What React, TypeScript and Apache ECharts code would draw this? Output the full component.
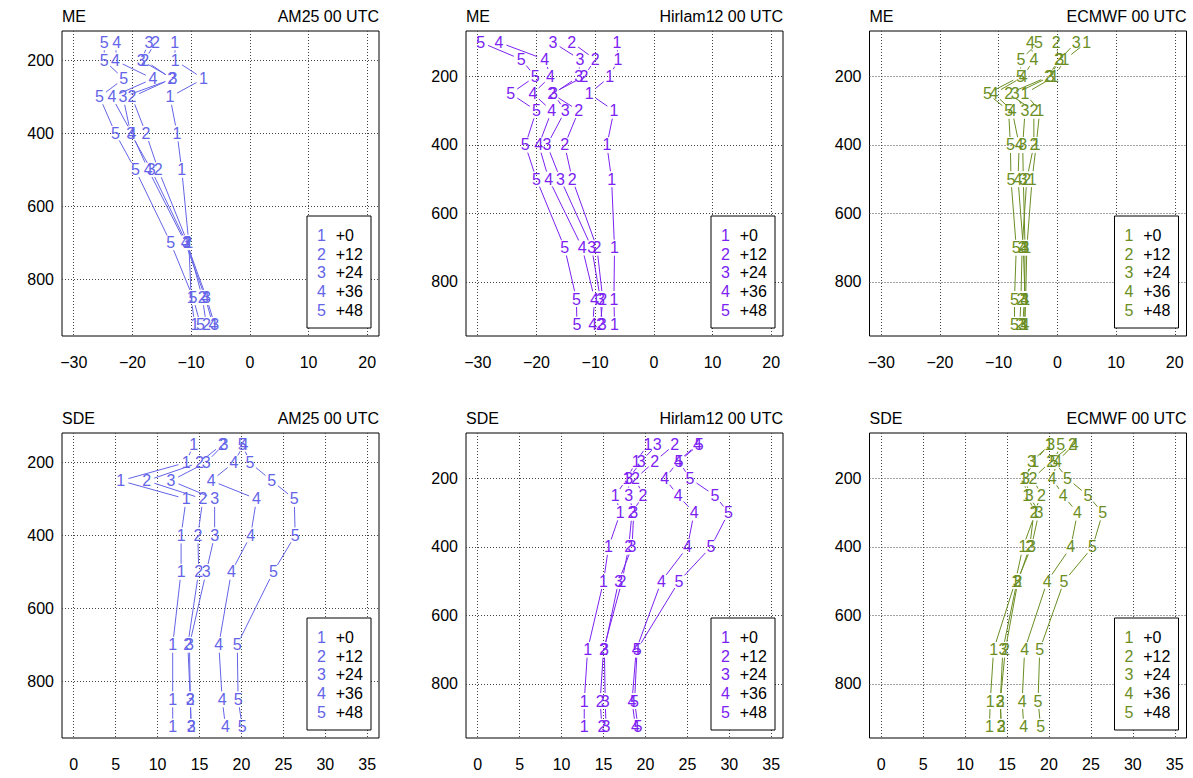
import React, { useEffect, useRef } from 'react';
import * as echarts from 'echarts';

// Pressure levels (hPa) per model
const levelsAM25 = [150, 200, 250, 300, 400, 500, 700, 850, 925];
const levelsHirlam12 = [100, 150, 200, 250, 300, 400, 500, 700, 850, 925];
const levelsECMWF = [100, 150, 200, 250, 300, 400, 500, 700, 850, 925];

const leadDigits = ['1', '2', '3', '4', '5'];
const leadLabels = ['+0', '+12', '+24', '+36', '+48'];

// ME values, one array per lead (+0, +12, +24, +36, +48)
const meAM25 = [
  [-12.8, -12.7, -7.9, -13.6, -12.4, -11.6, -10.4, -10.0, -9.4],
  [-16.1, -17.9, -13.3, -20.1, -17.7, -15.6, -10.6, -8.1, -7.4],
  [-17.2, -18.5, -13.1, -21.6, -20.3, -16.8, -10.8, -7.4, -6.0],
  [-22.7, -22.9, -16.5, -23.5, -20.1, -17.3, -11.0, -7.6, -6.3],
  [-24.8, -24.8, -21.5, -25.6, -22.9, -19.5, -13.5, -9.7, -8.4],
];
const meHirlam12 = [
  [-6.3, -6.1, -7.5, -11.0, -6.8, -8.0, -7.2, -6.7, -6.8, -6.7],
  [-14.0, -10.0, -11.9, -17.4, -12.8, -15.2, -13.9, -9.7, -8.7, -9.1],
  [-17.2, -12.6, -12.8, -17.1, -15.1, -18.2, -15.9, -10.6, -9.1, -8.8],
  [-26.4, -18.6, -17.6, -20.6, -17.4, -19.6, -17.9, -12.2, -10.1, -10.4],
  [-29.5, -22.6, -20.2, -24.4, -20.0, -21.9, -20.0, -15.2, -13.2, -13.1],
];
const meECMWF = [
  [5.0, 1.3, -0.5, -5.5, -3.0, -3.6, -4.3, -5.2, -5.4, -5.6],
  [-0.2, 0.2, -1.5, -8.3, -4.0, -4.0, -5.2, -6.0, -6.2, -6.4],
  [3.2, 0.4, -1.2, -7.2, -5.5, -5.9, -5.8, -5.5, -5.6, -5.9],
  [-4.6, -4.0, -5.8, -10.8, -7.7, -6.5, -6.7, -5.8, -5.5, -5.5],
  [-3.2, -6.2, -6.3, -11.9, -8.3, -8.0, -7.9, -7.0, -7.3, -7.3],
];

// SDE values
const sdeAM25 = [
  [14.3, 13.4, 5.6, 13.4, 12.8, 12.8, 11.8, 11.8, 11.8],
  [17.7, 15.0, 8.7, 15.4, 14.8, 14.9, 13.6, 13.9, 14.0],
  [17.9, 15.8, 11.6, 16.8, 16.8, 15.8, 13.8, 13.9, 14.0],
  [20.3, 19.1, 16.4, 21.8, 21.1, 18.8, 17.3, 17.7, 18.1],
  [20.1, 21.0, 23.6, 26.3, 26.4, 23.8, 19.5, 19.6, 20.1],
];
const sdeHirlam12 = [
  [20.3, 18.9, 17.8, 16.4, 17.0, 15.6, 15.0, 13.1, 12.7, 12.7],
  [23.5, 21.1, 18.8, 19.7, 18.4, 18.0, 17.2, 15.0, 14.6, 14.8],
  [21.4, 19.5, 18.0, 18.0, 18.6, 18.4, 16.8, 15.1, 15.2, 15.3],
  [26.2, 23.9, 22.3, 23.9, 25.8, 25.0, 21.9, 18.9, 18.4, 18.8],
  [26.4, 24.0, 25.3, 28.3, 29.9, 27.8, 24.0, 19.0, 18.7, 19.1],
];
const sdeECMWF = [
  [20.0, 18.3, 17.0, 17.35, 18.4, 16.9, 16.0, 13.4, 13.0, 12.9],
  [22.8, 20.2, 18.1, 19.1, 18.2, 17.7, 16.3, 14.8, 14.2, 14.3],
  [20.2, 17.9, 17.2, 17.65, 18.8, 17.9, 16.2, 14.5, 14.2, 14.3],
  [23.0, 21.0, 20.4, 21.7, 23.4, 22.6, 19.8, 17.1, 16.8, 17.0],
  [21.4, 20.6, 22.2, 24.65, 26.4, 25.2, 21.8, 18.9, 18.7, 19.0],
];

// Tick labels
const xTicksME = [-30, -20, -10, 0, 10, 20];
const xTicksSDE = [0, 5, 10, 15, 20, 25, 30, 35];
const yTicks = [200, 400, 600, 800];

const colorAM25 = '#6464e8';
const colorHirlam12 = '#7b22f2';
const colorECMWF = '#6b8e23';

const FONT = '"Liberation Sans", Arial, Helvetica, sans-serif';
const FS = 16;
const GAP = 8;

type Panel = {
  stat: string;
  model: string;
  levels: number[];
  data: number[][];
  color: string;
  xTicks: number[];
  xRange: [number, number];
  yRange: [number, number];
};

const yRangeAM = [119, 956] as [number, number];
const yRangeHE = [67, 958] as [number, number];
const xRangeME = [-32, 22] as [number, number];
const xRangeSDE = [-1.4, 36.4] as [number, number];

const panels: Panel[] = [
  { stat: 'ME', model: 'AM25', levels: levelsAM25, data: meAM25, color: colorAM25, xTicks: xTicksME, xRange: xRangeME, yRange: yRangeAM },
  { stat: 'ME', model: 'Hirlam12', levels: levelsHirlam12, data: meHirlam12, color: colorHirlam12, xTicks: xTicksME, xRange: xRangeME, yRange: yRangeHE },
  { stat: 'ME', model: 'ECMWF', levels: levelsECMWF, data: meECMWF, color: colorECMWF, xTicks: xTicksME, xRange: xRangeME, yRange: yRangeHE },
  { stat: 'SDE', model: 'AM25', levels: levelsAM25, data: sdeAM25, color: colorAM25, xTicks: xTicksSDE, xRange: xRangeSDE, yRange: yRangeAM },
  { stat: 'SDE', model: 'Hirlam12', levels: levelsHirlam12, data: sdeHirlam12, color: colorHirlam12, xTicks: xTicksSDE, xRange: xRangeSDE, yRange: yRangeHE },
  { stat: 'SDE', model: 'ECMWF', levels: levelsECMWF, data: sdeECMWF, color: colorECMWF, xTicks: xTicksSDE, xRange: xRangeSDE, yRange: yRangeHE },
];

const colLeft = [62, 466, 869.5];
const rowTop = [31, 433];
const W = 317;
const H = 305;

function txt(x: number, y: number, text: string, fill: string, align: string, valign = 'middle') {
  return {
    type: 'text',
    x,
    y,
    silent: true,
    style: {
      text,
      fill,
      font: `${FS}px ${FONT}`,
      textAlign: align,
      textVerticalAlign: valign,
      align,
      verticalAlign: valign,
    },
  };
}

export default function App() {
  const ref = useRef<HTMLDivElement>(null);
  useEffect(() => {
    const chart = echarts.init(ref.current!, null, { renderer: 'svg' });
    const grids: any[] = [];
    const xAxes: any[] = [];
    const yAxes: any[] = [];
    const series: any[] = [];
    const graphics: any[] = [];
    const labelStyle = { fontSize: FS, color: '#000', fontFamily: FONT };
    const splitLine = { show: true, lineStyle: { type: [1, 2], color: '#444', width: 1 } };

    panels.forEach((pn, i) => {
      const col = i % 3;
      const row = Math.floor(i / 3);
      const left = colLeft[col];
      const top = rowTop[row];
      grids.push({ left, top, width: W, height: H, show: true, borderColor: '#000', borderWidth: 1, backgroundColor: 'transparent' });
      xAxes.push({
        gridIndex: i,
        type: 'value',
        min: pn.xRange[0],
        max: pn.xRange[1],
        axisLine: { show: false },
        axisTick: { show: false, customValues: pn.xTicks },
        axisLabel: {
          ...labelStyle,
          margin: 18,
          customValues: pn.xTicks,
          formatter: (v: number) => String(v).replace('-', '\u2212'),
        },
        splitLine,
      });
      yAxes.push({
        gridIndex: i,
        type: 'value',
        inverse: true,
        min: pn.yRange[0],
        max: pn.yRange[1],
        axisLine: { show: false },
        axisTick: { show: false, customValues: yTicks },
        axisLabel: { ...labelStyle, margin: 8, customValues: yTicks },
        splitLine,
      });
      pn.data.forEach((vals, k) => {
        const pts = pn.levels.map((lev, j) => [vals[j], lev]);
        const color = pn.color;
        const digit = leadDigits[k];
        series.push({
          type: 'custom',
          name: `${pn.stat} ${pn.model} ${leadLabels[k]}`,
          xAxisIndex: i,
          yAxisIndex: i,
          data: pts,
          clip: false,
          silent: true,
          renderItem: (params: any, api: any) => {
            const idx = params.dataIndex;
            const p = api.coord(pts[idx]);
            const children: any[] = [];
            if (idx < pts.length - 1) {
              const q = api.coord(pts[idx + 1]);
              const dx = q[0] - p[0];
              const dy = q[1] - p[1];
              const len = Math.hypot(dx, dy);
              if (len > 2 * GAP + 1) {
                const ux = dx / len;
                const uy = dy / len;
                children.push({
                  type: 'line',
                  shape: { x1: p[0] + ux * GAP, y1: p[1] + uy * GAP, x2: q[0] - ux * GAP, y2: q[1] - uy * GAP },
                  style: { stroke: color, lineWidth: 1 },
                });
              }
            }
            children.push({
              type: 'text',
              x: p[0],
              y: p[1],
              style: {
                text: digit,
                fill: color,
                font: `${FS}px ${FONT}`,
                textAlign: 'center',
                textVerticalAlign: 'middle',
                align: 'center',
                verticalAlign: 'middle',
              },
            });
            return { type: 'group', children };
          },
        });
      });

      // titles
      graphics.push(txt(left, top - 15, pn.stat, '#000', 'left'));
      graphics.push(txt(left + W, top - 15, `${pn.model} 00 UTC`, '#000', 'right'));

      // legend box
      const bw = 64;
      const bh = 112;
      const bx = left + W - 8 - bw;
      const by = top + H - 8 - bh;
      graphics.push({
        type: 'rect',
        shape: { x: bx, y: by, width: bw, height: bh },
        style: { fill: '#fff', stroke: '#000', lineWidth: 1 },
        silent: true,
        z: 10,
      });
      leadDigits.forEach((d, k) => {
        const yy = by + 19.3 + k * 18.7;
        graphics.push({ ...txt(bx + 14.4, yy, d, pn.color, 'center'), z: 11 });
        graphics.push({ ...txt(bx + 28.7, yy, leadLabels[k], '#000', 'left'), z: 11 });
      });
    });

    chart.setOption({
      animation: false,
      backgroundColor: '#fff',
      grid: grids,
      xAxis: xAxes,
      yAxis: yAxes,
      series,
      graphic: graphics,
    });
    return () => chart.dispose();
  }, []);
  return <div ref={ref} style={{ position: 'fixed', left: 0, top: 0, width: 1193, height: 778 }} />;
}
